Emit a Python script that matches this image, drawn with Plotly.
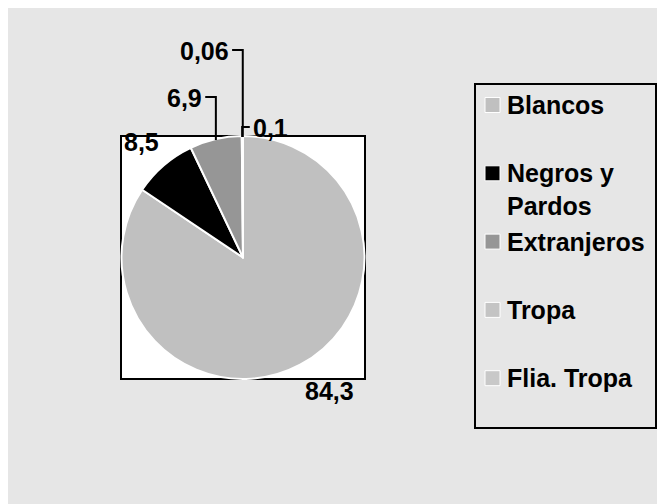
import math
import plotly.graph_objects as go

# ---- data ----
labels = ["Blancos", "Negros y Pardos", "Extranjeros", "Tropa", "Flia. Tropa"]
legend_text = ["Blancos", "Negros y<br>Pardos", "Extranjeros", "Tropa", "Flia. Tropa"]
values = [84.3, 8.5, 6.9, 0.1, 0.06]
colors = ["#c0c0c0", "#000000", "#969696", "#c4c4c4", "#c8c8c8"]

W, H = 665, 504
FS = 25
FONT = dict(family="Liberation Sans, Arial, sans-serif", size=FS, color="#000000", weight="bold")
OFF = 8  # page body margin

def px(x):
    return (x - OFF) / W

def py(y):
    return 1 - (y - OFF) / H

# plot area (white box) in page pixels
box = dict(x0=121, x1=365, y0=136, y1=379)
cx = (box["x0"] + box["x1"]) / 2
cy = (box["y0"] + box["y1"]) / 2
r = min(box["x1"] - box["x0"], box["y1"] - box["y0"]) / 2 - 1

fig = go.Figure()
fig.add_trace(go.Pie(
    labels=labels, values=values, sort=False, direction="clockwise", rotation=0,
    marker=dict(colors=colors, line=dict(color="#ffffff", width=2)),
    textinfo="none", hoverinfo="label+value", showlegend=False,
    domain=dict(x=[px(box["x0"]), px(box["x1"])], y=[py(box["y1"]), py(box["y0"])]),
))

shapes = []
# white plot box
shapes.append(dict(type="rect", xref="paper", yref="paper", x0=px(box["x0"]), x1=px(box["x1"]),
                   y0=py(box["y1"]), y1=py(box["y0"]), fillcolor="#ffffff",
                   line=dict(color="#000000", width=2), layer="below"))

# slice geometry from the data
total = sum(values)
cum = 0
anchors = []
for v in values:
    mid = (cum + v / 2) / total * 360
    cum += v
    a = math.radians(mid)
    anchors.append((cx + r * math.sin(a), cy - r * math.cos(a)))

def fmt(v):
    return ("%g" % v).replace(".", ",")

def text_w(s):
    return sum((0.278 if ch == "," else 0.556) for ch in s) * FS

annotations = []
# label offsets (pixels) relative to each slice's edge point; leader draws an elbow line
label_style = [
    dict(dx=30, dy=27, leader=False),
    dict(dx=-23, dy=-24, leader=False),
    dict(dx=-31, dy=-42, leader=True, side="left"),
    dict(dx=28, dy=-9, leader=True, side="right"),
    dict(dx=-38, dy=-86, leader=True, side="left"),
]
for v, (ax_, ay_), st in zip(values, anchors, label_style):
    tx, ty = ax_ + st["dx"], ay_ + st["dy"]
    annotations.append(dict(x=px(tx), y=py(ty), xref="paper", yref="paper", text=fmt(v),
                            showarrow=False, font=FONT, xanchor="center", yanchor="middle"))
    if st["leader"]:
        w = text_w(fmt(v))
        if st["side"] == "left":
            hx = tx + w / 2 + 3
        else:
            hx = tx - w / 2 - 3
        path = "M %f,%f L %f,%f L %f,%f" % (px(hx), py(ty - 1), px(ax_), py(ty - 1), px(ax_), py(ay_))
        shapes.append(dict(type="path", xref="paper", yref="paper", path=path,
                           line=dict(color="#000000", width=2)))

# legend box
shapes.append(dict(type="rect", xref="paper", yref="paper", x0=px(475), x1=px(656),
                   y0=py(428), y1=py(84), line=dict(color="#000000", width=2)))
for i, (t, c) in enumerate(zip(legend_text, colors)):
    yc = 105 + i * 68.3
    shapes.append(dict(type="rect", xref="paper", yref="paper", x0=px(485), x1=px(500),
                       y0=py(yc + 7.5), y1=py(yc - 7.5), fillcolor=c,
                       line=dict(color="#ffffff", width=1)))
    annotations.append(dict(x=px(505), y=py(yc - 16), xref="paper", yref="paper", text=t,
                            showarrow=False, font=FONT, xanchor="left", yanchor="top",
                            align="left"))

fig.update_layout(
    width=W, height=H, margin=dict(l=0, r=0, t=0, b=0),
    paper_bgcolor="#e6e6e6", plot_bgcolor="#e6e6e6",
    shapes=shapes, annotations=annotations, showlegend=False,
)
fig.write_html("out.html")
